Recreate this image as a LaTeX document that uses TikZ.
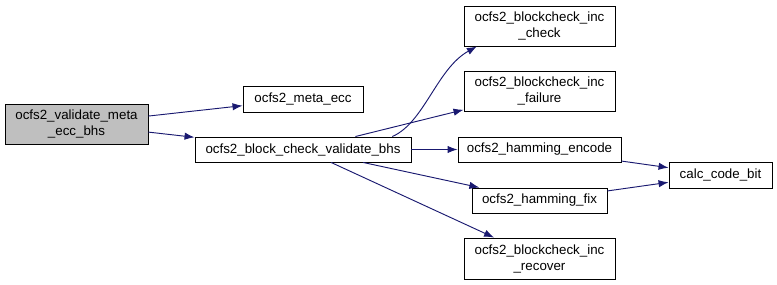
\documentclass[tikz,border=0pt]{standalone}
\usepackage{fontspec}
\setmainfont{Liberation Sans}
\usetikzlibrary{arrows.meta}
\definecolor{edgeblue}{HTML}{191970}
\definecolor{rootgray}{HTML}{BFBFBF}

\begin{document}
\begin{tikzpicture}[x=0.75pt,y=-0.75pt,
  fn/.style={draw=black,line width=0.7pt,inner sep=0pt,align=center,font=\fontsize{10}{12}\selectfont},
  call/.style={draw=edgeblue,line width=0.7pt,-{Latex[length=7.5pt,width=5.5pt]}}]
  \useasboundingbox (0,0) rectangle (777,285);
  \node [fn,fill=rootgray,minimum width=107.25pt,minimum height=30pt] (validate) at (76.5,124) {ocfs2\_validate\_meta\\\_ecc\_bhs};
  \node [fn,minimum width=90pt,minimum height=19.5pt] (metaecc) at (303,99) {ocfs2\_meta\_ecc};
  \node [fn,minimum width=162pt,minimum height=18.75pt] (checkbhs) at (303,149.5) {ocfs2\_block\_check\_validate\_bhs};
  \node [fn,minimum width=113.25pt,minimum height=30pt] (inccheck) at (539.5,26) {ocfs2\_blockcheck\_inc\\\_check};
  \node [fn,minimum width=113.25pt,minimum height=30pt] (incfail) at (539.5,91) {ocfs2\_blockcheck\_inc\\\_failure};
  \node [fn,minimum width=122.25pt,minimum height=18.75pt] (encode) at (539.5,149.5) {ocfs2\_hamming\_encode};
  \node [fn,minimum width=77.25pt,minimum height=19.5pt] (codebit) at (720.5,175) {calc\_code\_bit};
  \node [fn,minimum width=101.25pt,minimum height=18.75pt] (fix) at (539.5,200.5) {ocfs2\_hamming\_fix};
  \node [fn,minimum width=113.25pt,minimum height=30.75pt] (increcover) at (539.5,258.5) {ocfs2\_blockcheck\_inc\\\_recover};

  \draw [call] (validate) -- (metaecc);
  \draw [call] (validate) -- (checkbhs);
  \draw [call] ([xshift=67pt]checkbhs.north) .. controls +(32,-14) and +(-40,22) .. ([xshift=10pt]inccheck.south west);
  \draw [call] (checkbhs) -- (incfail);
  \draw [call] (checkbhs) -- (encode);
  \draw [call] (checkbhs) -- (fix);
  \draw [call] (checkbhs) -- (increcover);
  \draw [call] (encode) -- (codebit);
  \draw [call] (fix) -- (codebit);
\end{tikzpicture}
\end{document}
